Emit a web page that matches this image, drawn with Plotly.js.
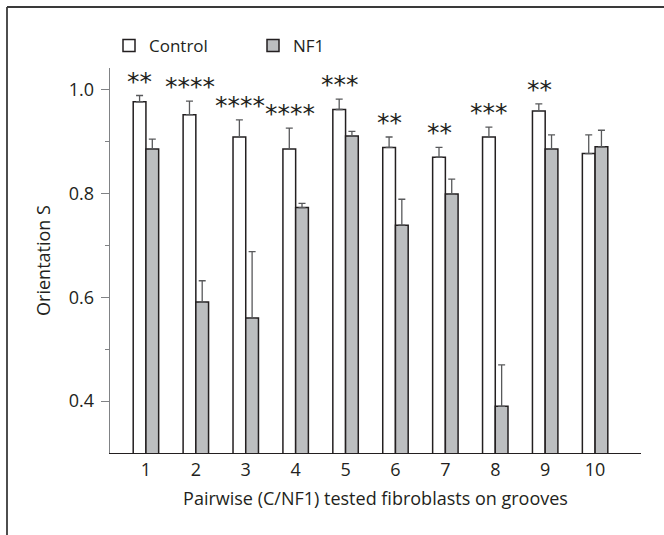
<!DOCTYPE html>
<html>
<head>
<meta charset="utf-8">
<script src="https://cdn.plot.ly/plotly-3.0.1.min.js"></script>
<style>html,body{margin:0;padding:0;background:#fff;}#chart{width:664px;height:535px;}</style>
</head>
<body>
<div id="chart"></div>
<script>
const categories = [1, 2, 3, 4, 5, 6, 7, 8, 9, 10];
const controlValues = [0.977, 0.952, 0.909, 0.886, 0.962, 0.889, 0.870, 0.909, 0.959, 0.877];
const controlErrors = [0.012, 0.026, 0.033, 0.040, 0.020, 0.020, 0.019, 0.019, 0.014, 0.036];
const nf1Values = [0.886, 0.591, 0.560, 0.773, 0.911, 0.739, 0.799, 0.390, 0.886, 0.890];
const nf1Errors = [0.019, 0.041, 0.128, 0.008, 0.009, 0.050, 0.029, 0.080, 0.027, 0.032];
const significance = ["**", "****", "****", "****", "***", "**", "**", "***", "**", ""];
const seriesNames = ["Control", "NF1"];
const xTitle = "Pairwise (C/NF1) tested fibroblasts on grooves";
const yTitle = "Orientation S";

const FONT = "'Open Sans', 'Noto Sans', sans-serif";
const INK = "#231f20";
const FS = 18;

const traces = [
  {
    type: "bar", name: seriesNames[0], x: categories, y: controlValues,
    marker: {color: "#ffffff", line: {color: INK, width: 1.5}},
    error_y: {type: "data", array: controlErrors, symmetric: false, arrayminus: controlErrors.map(() => 0),
              color: "#58595b", thickness: 1.3, width: 3.5}
  },
  {
    type: "bar", name: seriesNames[1], x: categories, y: nf1Values,
    marker: {color: "#bcbec0", line: {color: INK, width: 1.5}},
    error_y: {type: "data", array: nf1Errors, symmetric: false, arrayminus: nf1Errors.map(() => 0),
              color: "#58595b", thickness: 1.3, width: 3.5}
  }
];

const annotations = categories.map((c, i) => ({
  x: c, y: controlValues[i] + controlErrors[i], xref: "x", yref: "y",
  text: significance[i], showarrow: false, xanchor: "center", yanchor: "bottom",
  xshift: -6, yshift: -2,
  font: {family: "DejaVu Sans", size: 25, color: INK}
})).filter(a => a.text);

const W = 531, H = 385, L = 110, T = 68;
const px = v => (v - L) / W;
const py = v => (T + H - v) / H;

const layout = {
  width: 664, height: 535,
  margin: {l: L, r: 664 - L - W, t: T, b: 535 - T - H},
  paper_bgcolor: "#ffffff", plot_bgcolor: "#ffffff",
  font: {family: FONT, size: FS, color: INK},
  barmode: "group", bargap: 0.49, bargroupgap: 0,
  showlegend: true,
  legend: {orientation: "h", x: px(109), y: py(46), xanchor: "left", yanchor: "middle",
           entrywidth: 99, entrywidthmode: "pixels", font: {family: FONT, size: FS - 1, color: INK},
           bgcolor: "rgba(0,0,0,0)"},
  xaxis: {
    range: [0.28, 10.92], tickmode: "array", tickvals: categories, ticktext: categories.map(String),
    showline: true, linecolor: INK, linewidth: 1.3, ticks: "", showgrid: false, zeroline: false,
    title: {text: xTitle, font: {family: FONT, size: FS, color: INK}, standoff: 12},
    tickfont: {family: FONT, size: FS, color: INK}, automargin: false
  },
  yaxis: {
    range: [0.3, 1.042], tickvals: [0.4, 0.6, 0.8, 1.0], ticktext: ["0.4", "0.6", "0.8", "1.0"],
    showline: true, linecolor: "#808285", linewidth: 1.3, ticks: "outside", ticklen: 8, tickwidth: 1.2,
    tickcolor: "#808285", ticklabelstandoff: 3,
    minor: {tickvals: [0.5, 0.7, 0.9], ticks: "outside", ticklen: 4, tickwidth: 1.2, tickcolor: "#808285"},
    showgrid: false, zeroline: false,
    title: {text: yTitle, font: {family: FONT, size: FS, color: INK}, standoff: 13},
    tickfont: {family: FONT, size: FS, color: INK}, automargin: false
  },
  annotations: annotations,
  shapes: [
    {type: "line", xref: "paper", yref: "paper", x0: px(7), x1: px(664), y0: py(7), y1: py(7),
     line: {color: "#3a3a3a", width: 1.8}},
    {type: "line", xref: "paper", yref: "paper", x0: px(7), x1: px(7), y0: py(7), y1: py(535),
     line: {color: "#3a3a3a", width: 1.8}}
  ]
};

Plotly.newPlot("chart", traces, layout, {displayModeBar: false, staticPlot: true});
</script>
</body>
</html>
